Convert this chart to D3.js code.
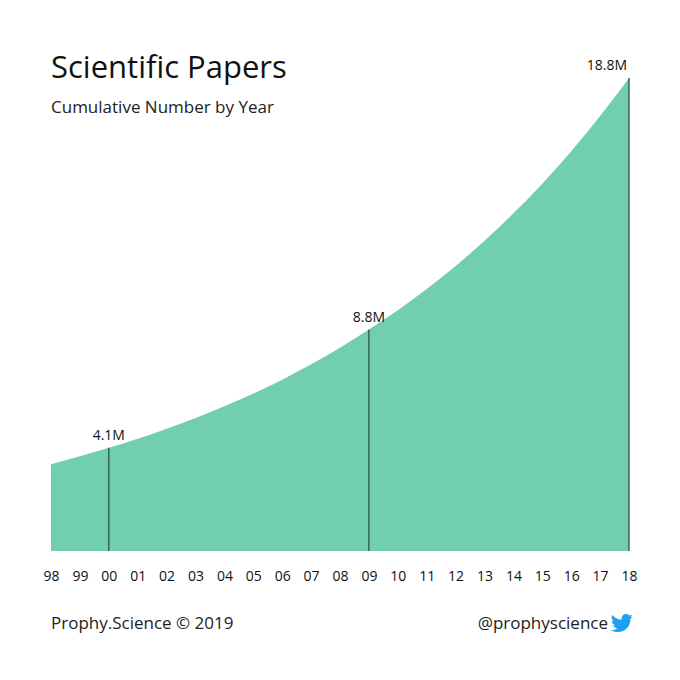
<!DOCTYPE html>
<html><head><meta charset="utf-8">
<script src="https://cdn.jsdelivr.net/npm/d3@7"></script>
<style>body{margin:0;background:#fff}text{font-family:"Open Sans",sans-serif}</style>
</head><body><svg id="c" width="680" height="680"></svg>
<script>
const years=["98","99","00","01","02","03","04","05","06","07","08","09","10","11","12","13","14","15","16","17","18"];
const values=[3.45,3.77,4.1,4.46,4.86,5.29,5.75,6.26,6.81,7.42,8.08,8.8,9.57,10.41,11.33,12.33,13.42,14.6,15.89,17.29,18.8];
const markers=[{year:"00",label:"4.1M"},{year:"09",label:"8.8M"},{year:"18",label:"18.8M"}];
const svg=d3.select("#c");
const x=d3.scalePoint().domain(years).range([51,629]);
const y=d3.scaleLinear().domain([0,18.8]).range([551,78]);
const data=years.map((k,i)=>({k,v:values[i]}));
svg.append("path").datum(data).attr("fill","#72cfae")
 .attr("d",d3.area().x(d=>x(d.k)).y0(y(0)).y1(d=>y(d.v)).curve(d3.curveMonotoneX));
markers.forEach(m=>{const v=values[years.indexOf(m.year)];
 svg.append("line").attr("x1",x(m.year)).attr("x2",x(m.year)).attr("y1",y(0)).attr("y2",y(v)).attr("stroke","#2f4f44").attr("stroke-width",1.3);
 svg.append("text").attr("x",x(m.year)-(m.year==="18"?22:0)).attr("y",y(v)-8).attr("text-anchor","middle").attr("font-size",14).attr("fill","#111").text(m.label);});
const ax=svg.append("g").attr("transform","translate(0,551)").call(d3.axisBottom(x).tickSize(0).tickPadding(20));
ax.select(".domain").remove();
ax.selectAll("text").attr("font-size",14).attr("fill","#111").style("font-family","Open Sans");
svg.append("text").attr("x",51).attr("y",78).attr("font-size",31).attr("fill","#111").text("Scientific Papers");
svg.append("text").attr("x",51).attr("y",113).attr("font-size",17).attr("fill","#222").text("Cumulative Number by Year");
svg.append("text").attr("x",51).attr("y",629).attr("font-size",17).attr("fill","#222").text("Prophy.Science © 2019");
svg.append("text").attr("x",608).attr("y",629).attr("text-anchor","end").attr("font-size",17).attr("fill","#222").text("@prophyscience");
svg.append("path").attr("transform","translate(611,612) scale(0.92)").attr("fill","#1da1f2")
 .attr("d","M23.6 4.6c-.9.4-1.8.6-2.8.8 1-.6 1.8-1.6 2.2-2.7-1 .6-2 1-3.1 1.2C19 2.9 17.7 2.3 16.3 2.3c-2.7 0-4.9 2.2-4.9 4.9 0 .4 0 .8.1 1.1C7.4 8.1 3.8 6.2 1.4 3.2c-.4.7-.7 1.6-.7 2.5 0 1.7.9 3.2 2.2 4.1-.8 0-1.6-.2-2.2-.6v.1c0 2.4 1.7 4.4 3.9 4.8-.4.1-.8.2-1.3.2-.3 0-.6 0-.9-.1.6 2 2.4 3.4 4.6 3.4-1.7 1.3-3.8 2.1-6.1 2.1-.4 0-.8 0-1.2-.1 2.2 1.4 4.8 2.2 7.5 2.2 9.1 0 14-7.5 14-14v-.6c1-.7 1.8-1.6 2.4-2.6z");
</script></body></html>
